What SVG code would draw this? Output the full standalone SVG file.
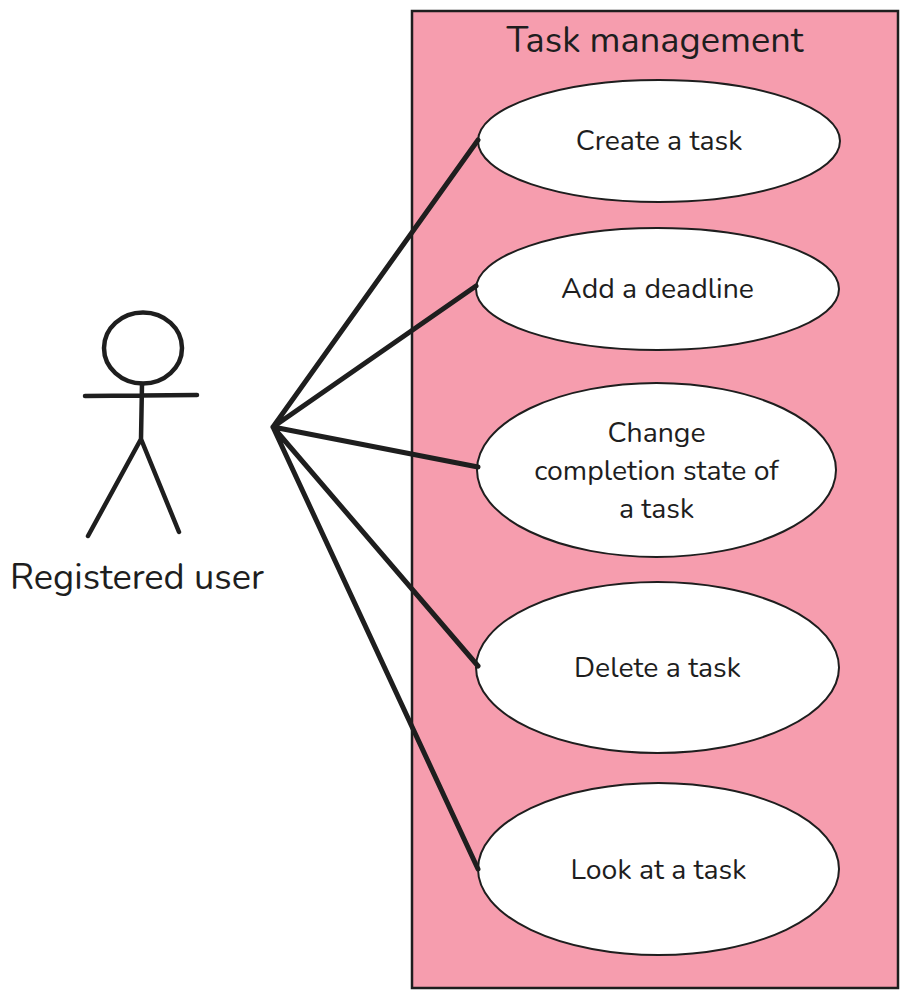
<svg xmlns="http://www.w3.org/2000/svg" width="908" height="997" viewBox="0 0 908 997">
<style>
text{font-family:"Nunito","Noto Sans","Open Sans",sans-serif;fill:#1e1e1e;text-anchor:middle}
.t{font-size:36.200px}
.l{font-size:28.400px}
.e{fill:#fff;stroke:#1e1e1e;stroke-width:2}
.c{fill:none;stroke:#1e1e1e;stroke-width:4.500;stroke-linecap:round;stroke-linejoin:round}
.k{stroke-width:5}
</style>
<rect width="908" height="997" fill="#fff"/>
<g id="system"><rect x="412" y="11" width="486" height="977" fill="#f69dae" stroke="#1e1e1e" stroke-width="2.500"/><text class="t" x="655" y="52">Task management</text></g>
<g id="actor"><ellipse class="c" cx="143" cy="348" rx="39" ry="35.500"/><path class="c" d="M142 384L141 439M85 396L197 395M141 439L88 536M141 439L179 532"/><text class="t" x="137" y="589">Registered user</text></g>
<g id="uc1"><ellipse class="e" cx="659" cy="141" rx="181" ry="61"/><text class="l" x="659" y="150">Create a task</text></g>
<g id="uc2"><ellipse class="e" cx="657.500" cy="289" rx="181.500" ry="61"/><text class="l" x="657.500" y="298">Add a deadline</text></g>
<g id="uc3"><ellipse class="e" cx="656.500" cy="470" rx="179.500" ry="87"/><text class="l" x="656.500" y="442">Change</text><text class="l" x="656.500" y="480">completion state of</text><text class="l" x="656.500" y="518">a task</text></g>
<g id="uc4"><ellipse class="e" cx="657.500" cy="667.500" rx="181.500" ry="85.500"/><text class="l" x="657.500" y="677">Delete a task</text></g>
<g id="uc5"><ellipse class="e" cx="658.500" cy="869" rx="180.500" ry="86"/><text class="l" x="658.500" y="879">Look at a task</text></g>
<g id="connectors">
<path class="c k" d="M273 427L478 140M273 427L476 286M273 427L478 467M273 427L478 666M273 427L478 869"/>
</g>
</svg>
